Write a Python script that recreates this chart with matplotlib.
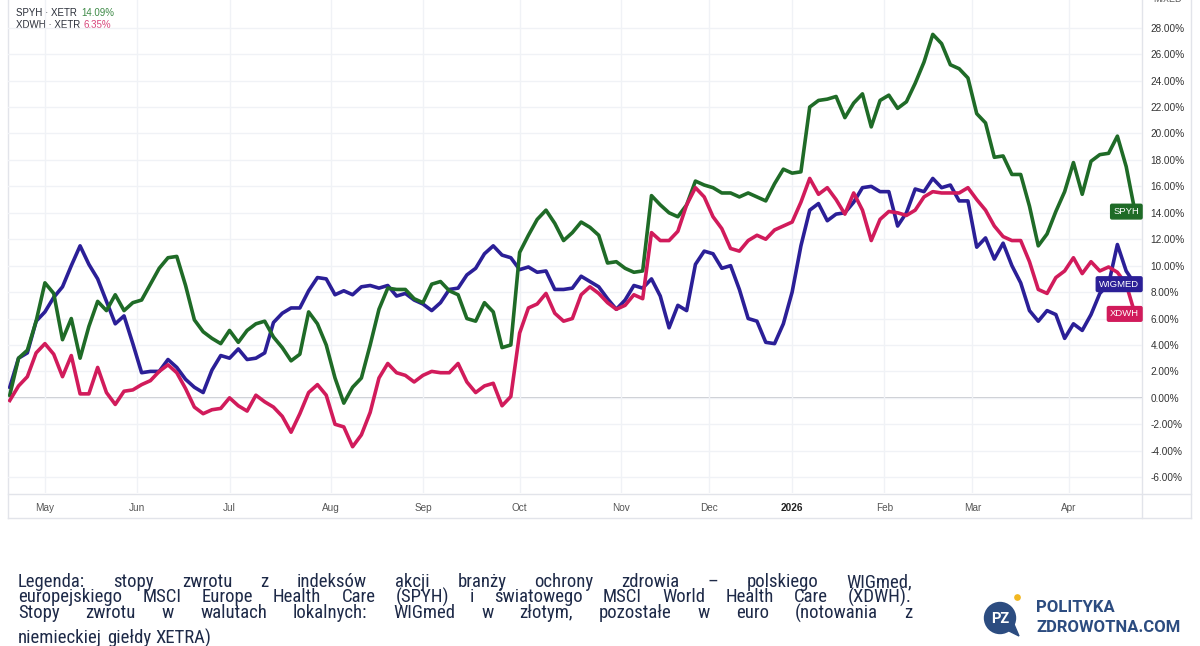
import numpy as np
import pandas as pd
import matplotlib
matplotlib.use("Agg")
import matplotlib.pyplot as plt
from matplotlib import font_manager as fm
from matplotlib.patches import Circle, Polygon
from matplotlib.ticker import FuncFormatter

# XETRA trading days, Apr 17 2025 .. Apr 24 2026; values read every 2nd session
holidays = ["2025-04-18", "2025-04-21", "2025-05-01", "2025-12-24", "2025-12-25",
            "2025-12-26", "2025-12-31", "2026-01-01", "2026-04-03", "2026-04-06"]
start_day, end_day = "2025-04-17", "2026-04-24"

# cumulative return, %
wigmed = [0.8, 3.0, 3.4, 5.8, 6.5, 7.6, 8.4, 10.0, 11.5, 10.1, 9.0, 7.3, 5.6, 6.2, 4.1, 1.9,
          2.0, 2.0, 2.9, 2.3, 1.4, 0.8, 0.4, 2.1, 3.2, 3.0, 3.7, 2.9, 3.0, 3.4, 5.7, 6.4,
          6.8, 6.8, 8.1, 9.1, 9.0, 7.8, 8.1, 7.8, 8.4, 8.5, 8.3, 8.5, 7.7, 7.9, 7.4, 7.1,
          6.6, 7.2, 8.2, 8.3, 9.3, 9.8, 10.9, 11.5, 10.8, 10.6, 9.7, 9.9, 9.5, 9.6, 8.2, 8.2,
          8.3, 9.2, 8.8, 8.4, 7.5, 6.7, 7.4, 8.5, 8.3, 9.0, 7.7, 5.3, 7.0, 6.6, 10.1, 11.1,
          10.9, 9.8, 10.0, 8.2, 6.0, 5.8, 4.2, 4.1, 5.6, 8.0, 11.5, 14.2, 14.7, 13.4, 13.9, 14.0,
          14.8, 15.9, 16.0, 15.6, 15.6, 13.0, 14.0, 15.8, 15.6, 16.6, 15.9, 16.1, 14.9, 14.9, 11.4, 12.1,
          10.5, 11.7, 10.0, 8.7, 6.6, 5.8, 6.6, 6.3, 4.5, 5.6, 5.1, 6.3, 7.9, 8.6, 11.6, 9.6,
          8.6]
spyh = [0.2, 3.0, 3.6, 5.8, 8.7, 7.9, 4.4, 6.0, 3.0, 5.4, 7.3, 6.6, 7.8, 6.6, 7.2, 7.4,
        8.6, 9.8, 10.6, 10.7, 8.5, 5.9, 5.0, 4.5, 4.1, 5.1, 4.2, 5.1, 5.6, 5.8, 4.6, 3.8,
        2.8, 3.3, 6.5, 5.6, 4.0, 1.5, -0.4, 0.8, 1.5, 4.0, 6.7, 8.3, 8.2, 8.2, 7.5, 7.2,
        8.6, 8.8, 8.1, 7.8, 6.0, 5.8, 7.2, 6.5, 3.8, 4.0, 11.0, 12.3, 13.5, 14.2, 13.2, 11.9,
        12.5, 13.3, 12.9, 12.3, 10.2, 10.3, 9.8, 9.5, 9.6, 15.3, 14.6, 14.0, 13.7, 14.6, 16.4, 16.1,
        15.9, 15.5, 15.5, 15.2, 15.5, 15.2, 14.9, 16.2, 17.3, 17.0, 17.1, 22.0, 22.5, 22.6, 22.8, 21.2,
        22.3, 23.0, 20.5, 22.5, 22.9, 21.9, 22.4, 23.8, 25.4, 27.5, 26.8, 25.2, 24.9, 24.2, 21.5, 20.8,
        18.2, 18.3, 16.9, 16.9, 14.5, 11.5, 12.4, 14.1, 15.6, 17.8, 15.4, 17.9, 18.4, 18.5, 19.8, 17.5,
        14.09]
xdwh = [-0.2, 0.9, 1.6, 3.4, 4.1, 3.3, 1.6, 3.2, 0.3, 0.3, 2.3, 0.4, -0.5, 0.5, 0.6, 1.0,
        1.3, 2.0, 2.5, 1.9, 0.7, -0.7, -1.2, -0.9, -0.8, 0.0, -0.6, -1.0, 0.2, -0.3, -0.7, -1.4,
        -2.6, -1.2, 0.4, 1.0, 0.2, -2.0, -2.2, -3.7, -2.8, -1.1, 1.5, 2.6, 1.9, 1.7, 1.2, 1.7,
        2.0, 1.9, 1.9, 2.6, 1.2, 0.4, 0.9, 1.1, -0.6, 0.1, 4.9, 6.8, 7.1, 7.9, 6.4, 5.8,
        6.0, 7.8, 8.4, 7.9, 7.2, 6.7, 7.0, 7.8, 7.5, 12.5, 11.9, 11.9, 12.6, 14.6, 15.9, 15.2,
        13.7, 12.8, 11.3, 11.1, 11.9, 12.3, 12.0, 12.7, 13.0, 13.3, 14.8, 16.6, 15.4, 15.9, 15.0, 13.9,
        15.5, 14.2, 11.9, 13.5, 14.1, 14.0, 13.8, 14.2, 15.2, 15.6, 15.5, 15.5, 15.5, 15.9, 15.0, 14.2,
        13.0, 12.2, 11.9, 11.9, 10.3, 8.2, 7.9, 9.1, 9.6, 10.6, 9.4, 10.3, 9.6, 9.9, 9.5, 8.6,
        6.35]

series_names = ["WIGMED", "SPYH", "XDWH"]
series_colors = ["#2b1f97", "#1f6b27", "#d11b5b"]
legend_rows = [("SPYH · XETR", "14.09%", "#3d8a46"), ("XDWH · XETR", "6.35%", "#d8447a")]
y_ticks = list(range(-6, 29, 2))

note_lines = [
    "Legenda: stopy zwrotu z indeksów akcji branży ochrony zdrowia – polskiego WIGmed,",
    "europejskiego MSCI Europe Health Care (SPYH) i światowego MSCI World Health Care (XDWH).",
    "Stopy zwrotu w walutach lokalnych: WIGmed w złotym, pozostałe w euro (notowania z",
    "niemieckiej giełdy XETRA)",
]


def pick_font(names):
    for n in names:
        try:
            fm.findfont(fm.FontProperties(family=n), fallback_to_default=False)
            return n
        except Exception:
            pass
    return "DejaVu Sans"


body_font = pick_font(["Liberation Sans Narrow", "Roboto Condensed", "Open Sans Condensed", "Liberation Sans"])
ui_font = pick_font(["Liberation Sans", "Roboto", "DejaVu Sans"])
logo_font = pick_font(["Roboto", "Liberation Sans", "DejaVu Sans"])

days = pd.bdate_range(start_day, end_day, freq="C", holidays=holidays)
pos = np.arange(len(days))[::2][:len(wigmed)]
tick_pos = [i for i in range(1, len(days)) if days[i].month != days[i - 1].month]
tick_lab = [str(days[i].year) if days[i].month == 1 else days[i].strftime("%b") for i in tick_pos]

W, H = 1200, 646
fig = plt.figure(figsize=(W / 100, H / 100), dpi=100, facecolor="white")

# pixel-space overlay for frame, notes, logo
ov = fig.add_axes([0, 0, 1, 1], zorder=0)
ov.set_xlim(0, W); ov.set_ylim(H, 0); ov.axis("off")

ax = fig.add_axes([8 / W, 1 - 493 / H, (1142 - 8) / W, 493 / H], zorder=1)
ax.set_facecolor("none")
for vals, name, col in zip([wigmed, spyh, xdwh], series_names, series_colors):
    ax.plot(pos, vals, color=col, lw=2.6, solid_joinstyle="round", zorder=3)
    ax.annotate(name, xy=(1, vals[-1]), xycoords=("axes fraction", "data"),
                xytext=(-2, 0), textcoords="offset points", ha="right", va="center",
                fontsize=6.8, color="white", fontfamily=ui_font,
                bbox=dict(boxstyle="round,pad=0.3,rounding_size=0.15", fc=col, ec=col),
                annotation_clip=False, zorder=5)

ax.set_xlim(-0.4, 257.6)
ax.set_ylim(-7.2, 30.1)
ax.set_yticks(y_ticks)
ax.yaxis.set_major_formatter(FuncFormatter(lambda v, _: f"{v:.2f}%"))
ax.yaxis.tick_right()
ax.set_xticks(tick_pos)
ax.set_xticklabels(tick_lab)
ax.tick_params(axis="y", length=0, pad=6, labelsize=7.2, labelcolor="#333333")
ax.tick_params(axis="x", length=0, pad=7, labelsize=7.2, labelcolor="#555555")
for lab in ax.get_xticklabels() + ax.get_yticklabels():
    lab.set_fontfamily(ui_font)
for lab in ax.get_xticklabels():
    if lab.get_text().isdigit():
        lab.set_fontweight("bold"); lab.set_color("#222222")
ax.grid(True, color="#f0f2f6", lw=1, zorder=0)
ax.axhline(0, color="#c4c6cc", lw=1.3, zorder=1)
for s in ax.spines.values():
    s.set_visible(False)

# frame lines
fc = "#e2e4ea"
ov.plot([8, 1191], [494, 494], color=fc, lw=1)
ov.plot([8, 1191], [518, 518], color=fc, lw=1)
ov.plot([8, 8], [0, 518], color=fc, lw=1)
ov.plot([1142, 1142], [0, 518], color=fc, lw=1)
ov.plot([1191, 1191], [0, 518], color=fc, lw=1)
ov.text(1167, 0, "MIXED", fontsize=6.5, color="#555555", ha="center", va="center", fontfamily=ui_font)

# top-left legend rows
for j, (lab, val, col) in enumerate(legend_rows):
    y = 12.5 + 13 * j
    ov.text(16, y, lab, fontsize=7, color="#2a2e39", va="center", fontfamily=ui_font)
    ov.text(81 + 2 * j, y, val, fontsize=7, color=col, va="center", fontfamily=ui_font)

# justified note text (words placed one by one, baseline-corrected)
note_size = 13.5
note_prop = fm.FontProperties(family=body_font, size=note_size)
note_kw = dict(fontproperties=note_prop, color="#1e2a48", va="baseline")
renderer = fig.canvas.get_renderer()
lp_d = renderer.get_text_width_height_descent("lp", note_prop, ismath=False)[2]
x0, x1 = 18, 912
baselines = [587, 602, 618, 643]
for li, (line, yb) in enumerate(zip(note_lines, baselines)):
    words = line.split(" ")
    ts = []
    for w in words:
        d = renderer.get_text_width_height_descent(w, note_prop, ismath=False)[2]
        ts.append(ov.text(0, yb + max(d - lp_d, 0), w, **note_kw))
    widths = [t.get_window_extent(renderer).width for t in ts]
    if li < len(note_lines) - 1 and len(words) > 1:
        gap = (x1 - x0 - sum(widths)) / (len(words) - 1)
    else:
        gap = renderer.points_to_pixels(note_size) * 0.25
    x = x0
    for t, w in zip(ts, widths):
        t.set_x(x)
        x += w + gap

# logo
navy = "#2c4c80"
ov.add_patch(Circle((1000, 618), 15.5, color=navy))
ov.add_patch(Polygon([(1005, 629), (1019, 636), (1013, 622)], closed=True, color=navy))
ov.add_patch(Circle((1017.5, 597.5), 4.2, color="#f2b720", ec="white", lw=1.2))
ov.text(1000, 619, "PZ", color="white", fontsize=10.5, fontweight="bold",
        ha="center", va="center", fontfamily=logo_font)
ov.text(1036, 607, "POLITYKA", color=navy, fontsize=12, fontweight="bold",
        ha="left", va="center", fontfamily=logo_font)
ov.text(1036, 628, "ZDROWOTNA.COM", color=navy, fontsize=12, fontweight="bold",
        ha="left", va="center", fontfamily=logo_font)

fig.savefig("out.png", dpi=100, facecolor="white")
